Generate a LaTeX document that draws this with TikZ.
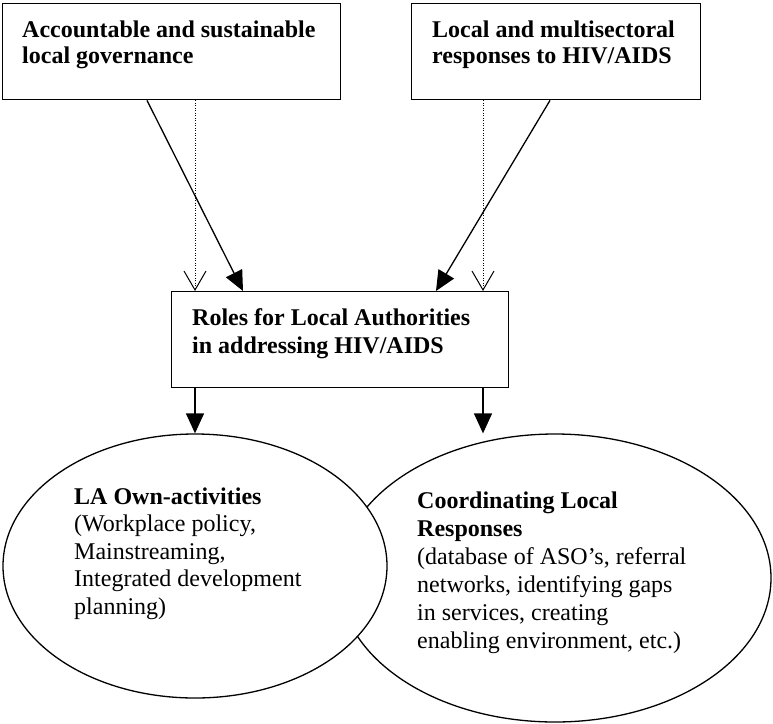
\documentclass[tikz,border=0pt]{standalone}
\usepackage{fontspec}
\setmainfont{Liberation Serif}
\usetikzlibrary{arrows.meta,shapes.geometric}
\newcommand{\bigtxt}{\fontsize{24}{27.6}\selectfont}

\begin{document}
\begin{tikzpicture}[x=1pt,y=-1pt,
  box/.style={draw,line width=1.4pt,anchor=north west,inner sep=0pt},
  oval/.style={ellipse,draw,fill=white,line width=1.3pt,inner sep=0pt},
  txt/.style={anchor=north west,align=left,inner sep=0pt,font=\bigtxt},
  solidarr/.style={line width=1.3pt,-{Triangle[length=20pt,width=18pt]}},
  dotarr/.style={line width=1pt,dash pattern=on 1pt off 1.5pt,
                 -{Straight Barb[length=19pt,width=22pt,line width=1pt]}}]
  \useasboundingbox (0,0) rectangle (773,723);
  % boxes
  \node[box,minimum width=338pt,minimum height=96pt] (gov)   at (2,3)     {};
  \node[box,minimum width=289pt,minimum height=96pt] (hiv)   at (411,3)   {};
  \node[box,minimum width=337pt,minimum height=96pt] (roles) at (171,291) {};
  % ovals (right one first, left one on top)
  \node[oval,minimum width=432pt,minimum height=288pt] (coord) at (555,578) {};
  \node[oval,minimum width=384pt,minimum height=264pt] (own)   at (195,566) {};
  % texts
  \node[txt,font=\fontsize{24}{26}\selectfont\bfseries] (govtxt) at (22,20.5)
       {Accountable and sustainable\\local governance};
  \node[txt,font=\fontsize{24}{26}\selectfont\bfseries] (hivtxt) at (432,20.5)
       {Local and multisectoral\\responses to HIV/AIDS};
  \node[txt,font=\bigtxt\bfseries] (rolestxt) at (192,308.5)
       {Roles for Local Authorities\\in addressing HIV/AIDS};
  \node[txt,font=\fontsize{24}{27.5}\selectfont] (owntxt) at (74,487.5)
       {\textbf{LA Own-activities}\\(Workplace policy,\\Mainstreaming,\\Integrated development\\planning)};
  \node[txt,font=\fontsize{24}{28}\selectfont] (coordtxt) at (417,491.5)
       {\textbf{Coordinating Local}\\\textbf{Responses}\\(database of ASO’s, referral\\networks, identifying gaps\\in services, creating\\enabling environment, etc.)};
  % arrows
  \coordinate (rsplit) at ([xshift=312pt]roles.south west);
  \draw[solidarr] ([xshift=145pt]gov.south west) -- ([xshift=72pt]roles.north west);
  \draw[dotarr]   ([xshift=193pt]gov.south west) -- ([xshift=24pt]roles.north west);
  \draw[solidarr] ([xshift=139pt]hiv.south west) -- ([xshift=265pt]roles.north west);
  \draw[dotarr]   ([xshift=72pt]hiv.south west)  -- ([xshift=312pt]roles.north west);
  \draw[solidarr] ([xshift=24pt]roles.south west) -- (own.north);
  \draw[solidarr] (rsplit) -- (rsplit |- coord.north);
\end{tikzpicture}
\end{document}
